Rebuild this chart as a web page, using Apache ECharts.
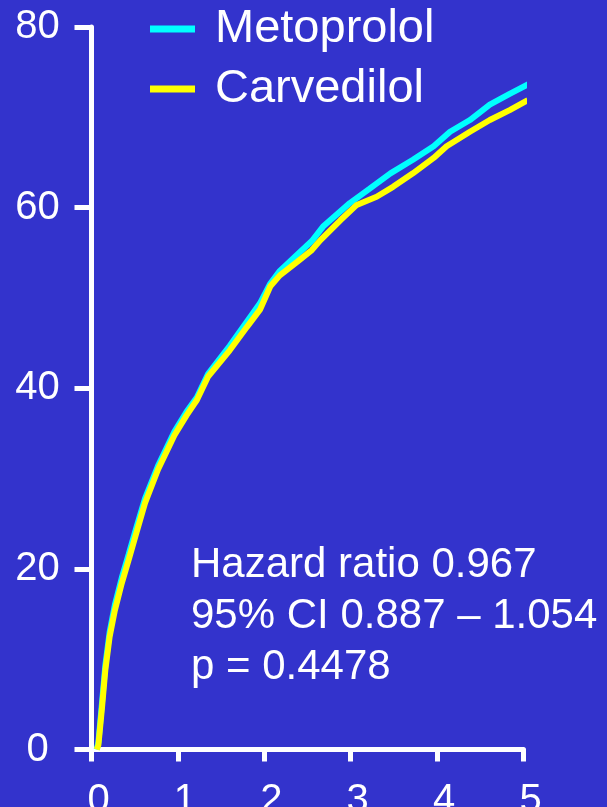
<!DOCTYPE html>
<html>
<head>
<meta charset="utf-8">
<script src="https://cdn.jsdelivr.net/npm/echarts@6/dist/echarts.min.js"></script>
<style>
  html, body { margin: 0; padding: 0; background: #3333cc; }
  #main { width: 607px; height: 807px; }
</style>
</head>
<body>
<div id="main"></div>
<script>
// cumulative event curves (years, %)
const metoprololYears = [0.06, 0.08, 0.12, 0.16, 0.21, 0.27, 0.35, 0.43, 0.52, 0.62, 0.77, 0.96, 1.10, 1.22, 1.35, 1.60, 1.80, 1.95, 2.07, 2.18, 2.38, 2.55, 2.68, 2.99, 3.22, 3.46, 3.72, 3.96, 4.15, 4.38, 4.61, 4.84, 5.08];
const metoprololPct   = [0, 0.8, 5.0, 9.3, 13.0, 16.0, 19.0, 21.6, 24.6, 27.8, 31.4, 35.2, 37.4, 39.0, 41.6, 44.7, 47.4, 49.4, 51.6, 53.0, 54.8, 56.3, 57.9, 60.5, 62.1, 63.8, 65.3, 66.8, 68.4, 69.7, 71.4, 72.6, 73.8];
const carvedilolYears = [0.06, 0.08, 0.12, 0.16, 0.21, 0.27, 0.35, 0.43, 0.52, 0.62, 0.77, 0.96, 1.10, 1.22, 1.35, 1.60, 1.80, 1.95, 2.07, 2.18, 2.38, 2.55, 2.65, 2.88, 3.07, 3.30, 3.49, 3.72, 3.96, 4.11, 4.38, 4.61, 4.84, 5.05];
const carvedilolPct   = [0, 0.5, 4.5, 8.8, 12.5, 15.4, 18.4, 21.0, 24.0, 27.3, 31.0, 34.8, 37.0, 38.7, 41.3, 44.2, 46.8, 48.7, 51.3, 52.5, 54.0, 55.3, 56.4, 58.6, 60.3, 61.2, 62.3, 63.8, 65.5, 66.8, 68.4, 69.7, 70.8, 71.9];
const statsLines = ['Hazard ratio 0.967', '95% CI 0.887 \u2013 1.054', 'p = 0.4478'];

const font = "'Liberation Sans', Arial, sans-serif";
const zip = (xs, ys) => xs.map((x, i) => [x, ys[i]]);

const chart = echarts.init(document.getElementById('main'));

chart.setOption({
  backgroundColor: '#3333cc',
  animation: false,
  textStyle: { fontFamily: font },
  grid: { left: 91.5, right: 83.5, top: 27, bottom: 57.5, containLabel: false, outerBoundsMode: 'none' },
  legend: {
    left: 150,
    top: 4,
    padding: 0,
    orient: 'vertical',
    icon: 'rect',
    itemWidth: 45,
    itemHeight: 7,
    itemGap: 10,
    textStyle: { color: '#fff', fontSize: 47, lineHeight: 50, fontFamily: font, padding: [0, 0, 0, 15] },
    data: ['Metoprolol', 'Carvedilol']
  },
  xAxis: {
    type: 'value',
    min: 0,
    max: 5,
    interval: 1,
    splitLine: { show: false },
    axisLine: { lineStyle: { color: '#fff', width: 5 } },
    axisTick: { length: 12, lineStyle: { color: '#fff', width: 5 } },
    axisLabel: { color: '#fff', fontSize: 40, fontFamily: font, margin: 31, padding: [0, 0, 0, 14] }
  },
  yAxis: {
    type: 'value',
    min: 0,
    max: 80,
    interval: 20,
    splitLine: { show: false },
    axisLine: { show: true, lineStyle: { color: '#fff', width: 5 } },
    axisTick: { show: true, length: 17, lineStyle: { color: '#fff', width: 5 } },
    axisLabel: { color: '#fff', fontSize: 40, fontFamily: font, margin: 54, align: 'center' }
  },
  graphic: [{
    type: 'text',
    left: 191,
    top: 540,
    style: {
      text: statsLines.join('\n'),
      fill: '#fff',
      font: '42px ' + font,
      lineHeight: 51
    }
  }],
  series: [
    {
      name: 'Metoprolol',
      type: 'line',
      showSymbol: false,
      color: '#00ffff',
      lineStyle: { width: 6, color: '#00ffff' },
      data: zip(metoprololYears, metoprololPct)
    },
    {
      name: 'Carvedilol',
      type: 'line',
      showSymbol: false,
      color: '#ffff00',
      lineStyle: { width: 6, color: '#ffff00' },
      data: zip(carvedilolYears, carvedilolPct)
    }
  ]
});
</script>
</body>
</html>
